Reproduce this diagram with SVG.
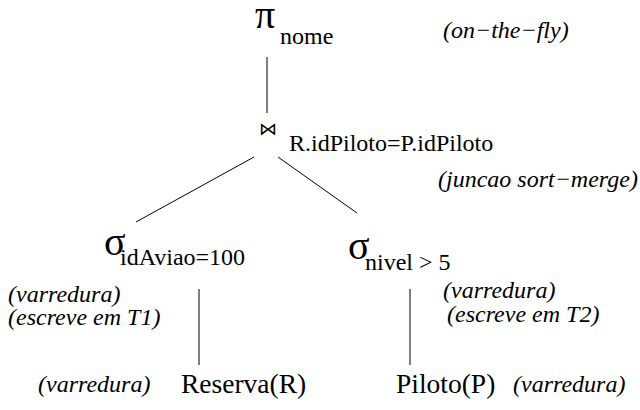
<svg xmlns="http://www.w3.org/2000/svg" width="640" height="410" viewBox="0 0 640 410">
<style>
.t{font-family:"Liberation Serif","Times New Roman",serif;font-size:24px;fill:#000}
.b{font-family:"Liberation Serif","Times New Roman",serif;font-size:27.5px;fill:#000}
.i{font-family:"Liberation Serif","Times New Roman",serif;font-size:24px;font-style:italic;fill:#000}
.g{font-family:"Liberation Serif","DejaVu Serif",serif;font-size:40px;fill:#000}
.c{stroke:#000;stroke-width:1;fill:none}
</style>
<rect width="640" height="410" fill="#fff"/>
<g id="connectors">
<line class="c" x1="267" y1="57" x2="267" y2="113"/>
<line class="c" x1="254" y1="157" x2="136" y2="222"/>
<line class="c" x1="278" y1="157" x2="357" y2="213"/>
<line class="c" x1="199" y1="289" x2="199" y2="365"/>
<line class="c" x1="410" y1="289" x2="410" y2="365"/>
</g>
<g id="projecao">
<text class="g" x="255" y="28">π</text>
<text class="t" x="280" y="44">nome</text>
<text class="i" x="443" y="38">(on−the−fly)</text>
</g>
<g id="juncao">
<text x="259" y="135" style="font-family:'DejaVu Sans',sans-serif;font-size:18px">⋈</text>
<text class="t" x="289" y="151">R.idPiloto=P.idPiloto</text>
<text class="i" x="438" y="187">(juncao sort−merge)</text>
</g>
<g id="selecao1">
<text class="g" x="104" y="255">σ</text>
<text class="t" x="120" y="265">idAviao=100</text>
<text class="i" x="8" y="302">(varredura)</text>
<text class="i" x="8" y="325">(escreve em T1)</text>
</g>
<g id="selecao2">
<text class="g" x="348" y="259">σ</text>
<text class="t" x="365" y="270">nivel &gt; 5</text>
<text class="i" x="443" y="298">(varredura)</text>
<text class="i" x="447" y="322">(escreve em T2)</text>
</g>
<g id="reserva">
<text class="b" x="181" y="393">Reserva(R)</text>
<text class="i" x="38" y="392">(varredura)</text>
</g>
<g id="piloto">
<text class="b" x="396" y="393">Piloto(P)</text>
<text class="i" x="513" y="392">(varredura)</text>
</g>
</svg>
